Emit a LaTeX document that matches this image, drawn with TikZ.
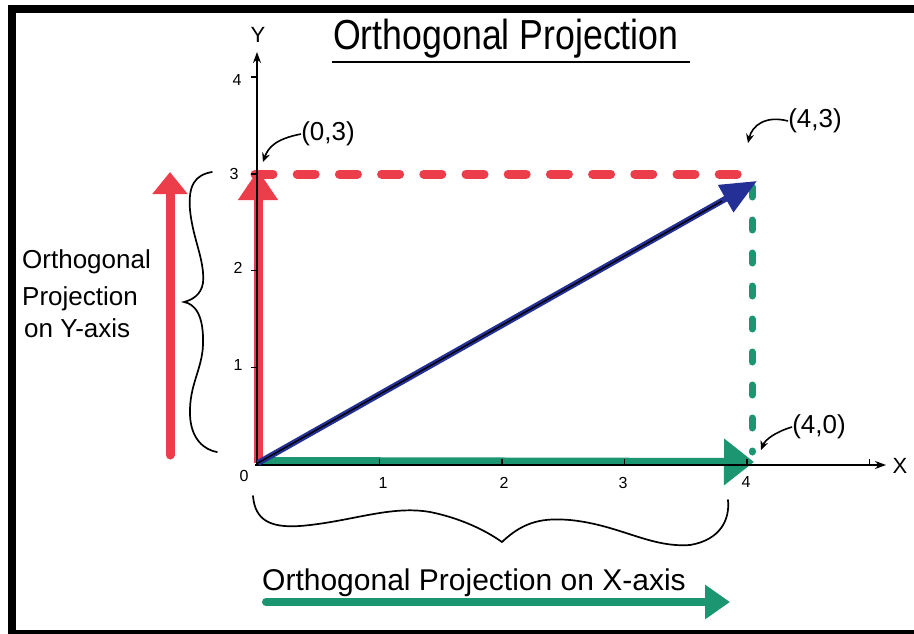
\documentclass[tikz,border=0pt]{standalone}
\usepackage{fontspec}
\usepackage{graphicx}
\setmainfont{Liberation Sans}
\usetikzlibrary{arrows.meta}
\definecolor{pred}{RGB}{236,62,74}
\definecolor{pgreen}{RGB}{28,150,112}
\definecolor{pblue}{RGB}{36,48,150}
\begin{document}
\begin{tikzpicture}[x=1pt,y=-1pt,
  lbl/.style={inner sep=0pt, font=\fontsize{26}{26}\selectfont},
  bigtxt/.style={inner sep=0pt, font=\fontsize{30}{30}\selectfont},
  sidetxt/.style={inner sep=0pt, anchor=base west, font=\fontsize{26}{26}\selectfont},
  ticklbl/.style={inner sep=0pt, font=\fontsize{16}{16}\selectfont},
  pointer/.style={-{Stealth[length=9pt,width=8pt]}, line width=1.6pt},
  axisline/.style={line width=1.8pt, -{Stealth[length=11pt,width=8pt]}},
  tickmark/.style={line width=1.4pt},
  reddash/.style={pred, line width=9pt, line cap=round, dash pattern=on 18pt off 24.2pt},
  greendash/.style={pgreen, line width=7pt, line cap=round, dash pattern=on 10pt off 23pt},
  bracelin/.style={line width=1.7pt, line cap=round},
  redvec/.style={pred, line width=9pt, -{Triangle[length=30pt,width=38pt]}},
  greenvec/.style={pgreen, line width=8pt, -{Triangle[length=30pt,width=45pt]}},
  bluevec/.style={pblue, line width=6pt, -{Triangle[length=36pt,width=30pt]}}
]
\useasboundingbox (0,0) rectangle (914,634);
\fill[white] (0,0) rectangle (914,634);
% frame
\fill[black] (8,5) rectangle (914,634);
\fill[white] (16,13) rectangle (914,630);

% key points
\coordinate (O) at (257,464);
\coordinate (Ored) at (258,463);
\coordinate (Ogreen) at (258,461);
\coordinate (P03) at (258,170);
\coordinate (P40) at (754,462);
\coordinate (P43) at (757,181);
\coordinate (Bcore) at (722,201);
\coordinate (Ytop) at (257,52);
\coordinate (Xend) at (886,465);
\coordinate (Rd1) at (255,174);
\coordinate (Rd2) at (738,174);
\coordinate (Gd1) at (752,187);
\coordinate (Gd2) at (752,452);

% title
\node[inner sep=0pt, anchor=base west, font=\fontsize{42}{42}\selectfont] (title) at (333,50) {\scalebox{0.85}[1]{Orthogonal Projection}};
\draw[line width=2pt] (332,62) -- (690,62);

% dashed projections
\draw[reddash] (Rd1) -- (Rd2);
\draw[greendash] (Gd1) -- (Gd2);

% projection vectors
\draw[greenvec] (Ogreen) -- (P40);
\draw[redvec] (Ored) -- (P03);

% axes
\draw[axisline] (O) -- (Ytop);
\draw[axisline] (255,465) -- (Xend);
\foreach \yy in {77.2,173.9,270.6,367.3} \draw[tickmark] (251,\yy) -- (257,\yy);
\foreach \xx in {379.5,502,624.5,747,869.5} \draw[tickmark] (\xx,465) -- (\xx,459);
\node[inner sep=0pt, font=\fontsize{22}{22}\selectfont] (ylab) at (258,35) {Y};
\node[inner sep=0pt, font=\fontsize{22}{22}\selectfont] (xlab) at (900,466) {X};
\node[ticklbl] (t4y) at (237,80) {4};
\node[ticklbl] (t3y) at (234,174) {3};
\node[ticklbl] (t2y) at (238,268) {2};
\node[ticklbl] (t1y) at (238,365) {1};
\node[ticklbl] (t0) at (244,476) {0};
\node[ticklbl] (t1x) at (383,483) {1};
\node[ticklbl] (t2x) at (504,483) {2};
\node[ticklbl] (t3x) at (623,483) {3};
\node[ticklbl] (t4x) at (746,482) {4};

% main vector
\draw[bluevec] (Ored) -- (P43);
\draw[line width=1.4pt] (Ored) -- (Bcore);

% point labels with pointers
\node[lbl] (l03) at (328,134) {(0,3)};
\node[lbl] (l43) at (815,121) {(4,3)};
\node[lbl] (l40) at (819,427) {(4,0)};
\draw[pointer] (l03.west) .. controls (275,139) and (268,148) .. (263,162);
\draw[pointer] (l43.west) .. controls (765,115) and (752,126) .. (748,143);
\draw[pointer] (l40.west) .. controls (775,432) and (765,440) .. (761,450);

% left side: y projection
\coordinate (Lbot) at (170,455);
\coordinate (Ltop) at (170,172);
\draw[redvec, line cap=round, -{Triangle[length=22pt,width=34pt]}] (Lbot) -- (Ltop);
\draw[bracelin] (212,172) .. controls (195,175) and (188,185) .. (190,210)
  .. controls (193,240) and (205,260) .. (203,283)
  .. controls (201,295) and (192,300) .. (184,302)
  .. controls (195,304) and (204,315) .. (203,345)
  .. controls (202,370) and (189,385) .. (190,415)
  .. controls (191,440) and (205,450) .. (217,452);
\node[sidetxt] (ly1) at (22,268) {Orthogonal};
\node[sidetxt] (ly2) at (22,305) {Projection};
\node[sidetxt] (ly3) at (24,337) {on Y-axis};

% bottom: x projection
\draw[bracelin] (253,496) .. controls (255,520) and (270,528) .. (300,526)
  .. controls (350,522) and (390,505) .. (430,512)
  .. controls (460,518) and (485,530) .. (502,542)
  .. controls (525,520) and (545,518) .. (570,520)
  .. controls (620,525) and (650,548) .. (690,545)
  .. controls (720,540) and (730,520) .. (728,500);
\node[bigtxt, anchor=base west] (lx) at (262,590) {Orthogonal Projection on X-axis};
\coordinate (Bl) at (266,602);
\coordinate (Br) at (730,602);
\draw[greenvec, line cap=round, -{Triangle[length=25pt,width=33pt]}] (Bl) -- (Br);
\end{tikzpicture}
\end{document}
